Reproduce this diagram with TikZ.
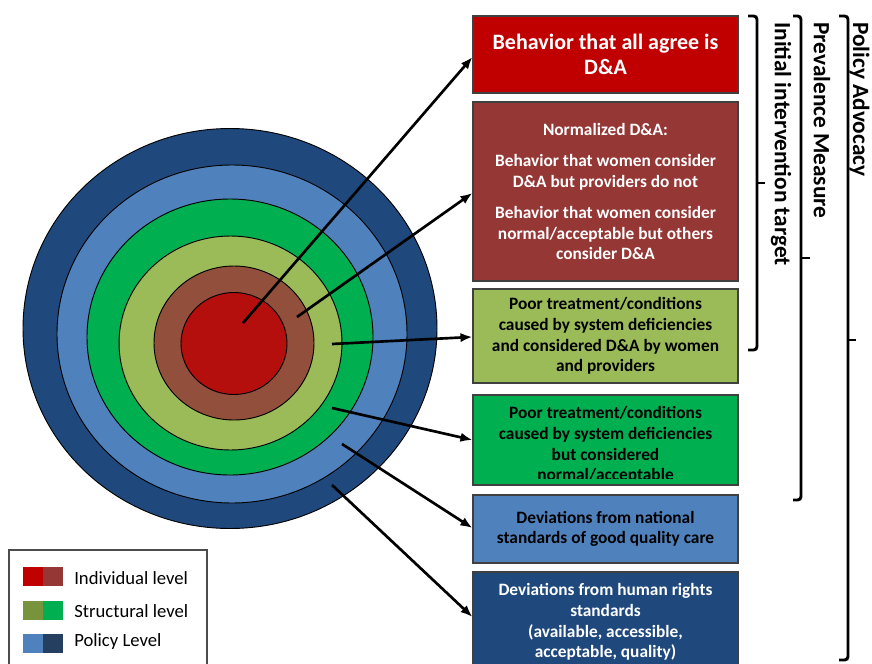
\documentclass[tikz,border=0pt]{standalone}
\usepackage{fontspec}
\setmainfont{Carlito}
\usetikzlibrary{arrows.meta,calc}
\definecolor{ringOuter}{HTML}{1F497D}
\definecolor{ringLight}{HTML}{4F81BD}
\definecolor{ringGreen}{HTML}{00B050}
\definecolor{ringOlive}{HTML}{9BBB59}
\definecolor{ringBrown}{HTML}{92503C}
\definecolor{ringRed}{HTML}{B40F0C}
\definecolor{boxRed}{HTML}{C00000}
\definecolor{boxBrown}{HTML}{953735}
\definecolor{legOlive}{HTML}{77933C}
\definecolor{legNavy}{HTML}{243F60}
\tikzset{
  ring/.style={draw=black, line width=0.7pt},
  box/.style={draw=black!75, line width=0.8pt, minimum width=198.75pt, inner sep=0pt,
    align=center, font=\bfseries\fontsize{13}{15.5}\selectfont},
  arr/.style={line width=2pt, -{Latex[length=9pt,width=7pt]}},
  brk/.style={line width=2.2pt, rounded corners=2.5pt},
  tick/.style={line width=2.2pt},
  vlabel/.style={rotate=-90, anchor=west, inner sep=0pt,
    font=\bfseries\fontsize{17.5}{20}\selectfont},
  swatch/.style={minimum width=14.6pt, minimum height=14.25pt, inner sep=0pt},
  legtext/.style={anchor=west, inner sep=0pt, font=\fontsize{14}{16}\selectfont}
}
\begin{document}
\begin{tikzpicture}[x=0.75pt,y=-0.75pt]
\clip (0,0) rectangle (872,664);
\fill[white] (0,0) rectangle (872,664);

% target rings
\draw[ring, fill=ringOuter] (230,328.5) ellipse [x radius=155.25pt, y radius=150pt];
\draw[ring, fill=ringLight] (232,334) ellipse [x radius=131.25pt, y radius=126.75pt];
\draw[ring, fill=ringGreen] (230,337) ellipse [x radius=107.25pt, y radius=103.5pt];
\draw[ring, fill=ringOlive] (230.5,343) ellipse [x radius=83.6pt, y radius=80.25pt];
\draw[ring, fill=ringBrown] (234,343) ellipse [x radius=60pt, y radius=57.75pt];
\draw[ring, fill=ringRed] (234,343.5) ellipse [x radius=39.75pt, y radius=38.25pt];

% boxes
\node[box, fill=boxRed, text=white, minimum height=57.75pt,
  font=\bfseries\fontsize{16.5}{18.5}\selectfont] (b1) at (605.5,54.5)
  {Behavior that all agree is\\D\&A};
\node[box, fill=boxBrown, text=white, minimum height=134.25pt] (b2) at (605.5,191.5)
  {Normalized D\&A:\\[8pt]Behavior that women consider\\D\&A but providers do not\\[8pt]Behavior that women consider\\normal/acceptable but others\\consider D\&A};
\node[box, fill=ringOlive, text=black, minimum height=70.5pt] (b3) at (605.5,336)
  {Poor treatment/conditions\\caused by system deficiencies\\and considered D\&A by women\\and providers};
\node[box, fill=ringGreen, minimum height=67.5pt] (b4) at (605.5,440) {};
\begin{scope}
  \clip (474,396) rectangle (737,478.5);
  \node[align=center, inner sep=0pt, text=black, font=\bfseries\fontsize{13}{15.5}\selectfont]
    (b4text) at (605.5,445)
    {Poor treatment/conditions\\caused by system deficiencies\\but considered\\normal/acceptable};
\end{scope}
\node[box, fill=ringLight, text=black, minimum height=51pt] (b5) at (605.5,529)
  {Deviations from national\\standards of good quality care};
\node[box, fill=ringOuter, text=white, minimum height=75pt] (b6) at (605.5,622)
  {Deviations from human rights\\standards\\(available, accessible,\\acceptable, quality)};

% arrows
\coordinate (s1) at (243,323);
\coordinate (s2) at (297,317);
\coordinate (s3) at (332,344);
\coordinate (s4) at (332,408);
\coordinate (s5) at (342,444);
\coordinate (s6) at (332,485);
\draw[arr] (s1) -- ([yshift=-1.9pt]b1.west);
\draw[arr] (s2) -- ([yshift=-1.1pt]b2.west);
\draw[arr] (s3) -- ([yshift=-0.7pt]b3.west);
\draw[arr] (s4) -- (b4.west);
\draw[arr] (s5) -- ([yshift=0.7pt]b5.west);
\draw[arr] (s6) -- ([yshift=3.75pt]b6.west);

% brackets
\draw[brk] (748,16) -- (757,16) -- (757,350) -- (748,350);
\draw[tick] (757,183) -- (765,183);
\draw[brk] (793,16) -- (801,16) -- (801,500) -- (793,500);
\draw[tick] (801,258) -- (810,258);
\draw[brk] (839,16) -- (848,16) -- (848,660) -- (839,660);
\draw[tick] (848,340) -- (856,340);
\node[vlabel] (lab1) at (781,22) {Initial intervention target};
\node[vlabel] (lab2) at (822,22) {Prevalence Measure};
\node[vlabel] (lab3) at (859.5,22) {Policy Advocacy};

% legend
\draw[draw=black!70, line width=1.5pt] (9,680) -- (9,550) -- (207,550) -- (207,680);
\node[swatch, fill=boxRed] (sw1a) at (33,576.5) {};
\node[swatch, fill=boxBrown, anchor=west] (sw1b) at (sw1a.east) {};
\node[swatch, fill=legOlive] (sw2a) at (33,610) {};
\node[swatch, fill=ringGreen, anchor=west] (sw2b) at (sw2a.east) {};
\node[swatch, fill=ringLight] (sw3a) at (33,643) {};
\node[swatch, fill=legNavy, anchor=west] (sw3b) at (sw3a.east) {};
\node[legtext] (lt1) at (74,578) {Individual level};
\node[legtext] (lt2) at (74,611) {Structural level};
\node[legtext] (lt3) at (74,642) {Policy Level};
\end{tikzpicture}
\end{document}
